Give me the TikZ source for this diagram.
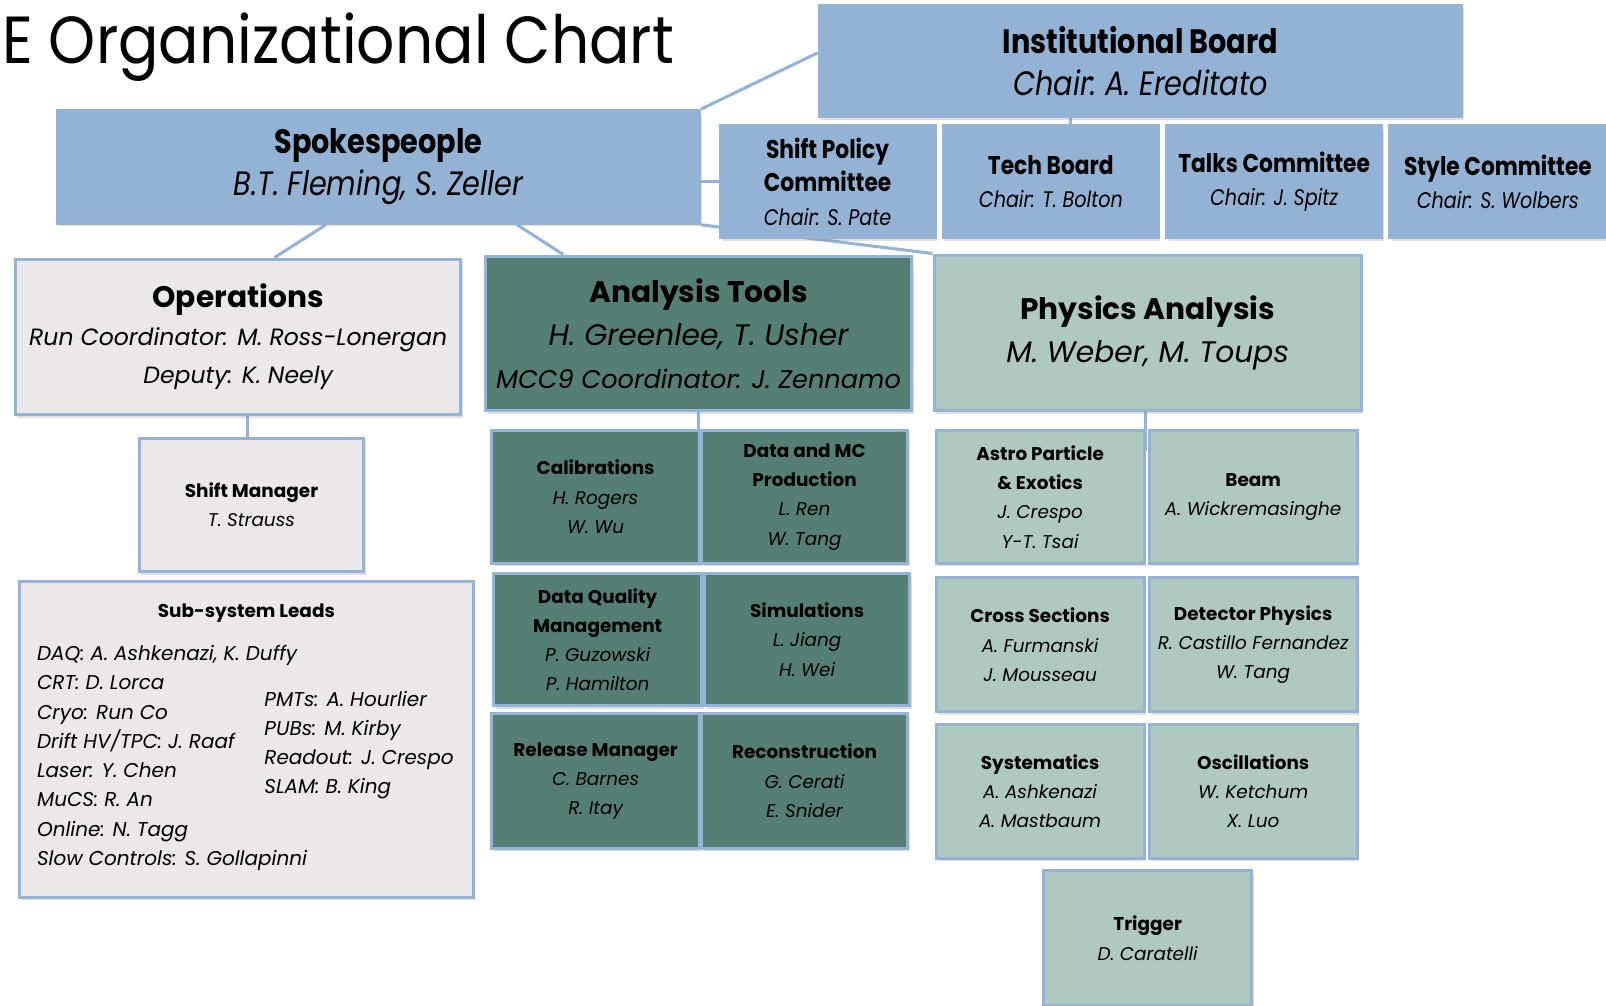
\documentclass[tikz,border=0pt]{standalone}
\usepackage{fontspec}
\setmainfont{Poppins}
\newfontfamily\cf[FakeStretch=0.85]{Poppins}
\newfontfamily\tf[FakeStretch=0.9]{Poppins}
\usetikzlibrary{shadows,backgrounds}
\definecolor{cblue}{HTML}{94B3D4}
\definecolor{cgray}{HTML}{EAE8E9}
\definecolor{cdark}{HTML}{557F74}
\definecolor{clight}{HTML}{AFC9C1}
\definecolor{cline}{HTML}{95B3D6}
\begin{document}
\begin{tikzpicture}[x=1pt,y=-1pt,
  box/.style={rectangle, draw=cline, line width=3pt, align=center, inner sep=2pt,
    drop shadow={shadow xshift=2pt, shadow yshift=-3pt, opacity=0.25}},
  bbox/.style={box, fill=cblue},
  gbox/.style={box, fill=cgray},
  dbox/.style={box, fill=cdark},
  lbox/.style={box, fill=clight},
  conn/.style={draw=cline, line width=3pt},
  bigc/.style={font=\cf\fontsize{33}{41}\selectfont},
  medc/.style={font=\cf\fontsize{25}{32.5}\selectfont},
  small/.style={font=\fontsize{18}{28.6}\selectfont},
]
\useasboundingbox (0,0) rectangle (1568,982);

\node[anchor=base west, inner sep=0, font=\tf\fontsize{65}{65}\selectfont] (title) at (2,62) {E Organizational Chart};

% top row
\node[bbox, bigc, minimum width=627pt, minimum height=109pt] (ib) at (1113.5,59.5)
  {{\bfseries Institutional Board}\\{\itshape Chair:\ A. Ereditato}};
\node[bbox, bigc, minimum width=627pt, minimum height=110pt] (spk) at (369.5,163)
  {{\bfseries Spokespeople}\\{\itshape B.T. Fleming, S. Zeller}};
\node[bbox, medc, minimum width=210pt, minimum height=109pt] (sp) at (808,177.5)
  {{\bfseries Shift Policy}\\{\bfseries Committee}\\{\fontsize{22}{32.5}\selectfont\itshape Chair: S. Pate}};
\node[bbox, medc, minimum width=210pt, minimum height=109pt] (tb) at (1026,177.5)
  {{\bfseries Tech Board}\\{\fontsize{22}{32.5}\selectfont\itshape Chair: T. Bolton}};
\node[bbox, medc, minimum width=210pt, minimum height=109pt] (tc) at (1244,177.5)
  {{\bfseries Talks Committee}\\{\fontsize{22}{32.5}\selectfont\itshape Chair: J. Spitz}};
\node[bbox, medc, minimum width=211pt, minimum height=109pt] (sc) at (1462.5,177.5)
  {{\bfseries Style Committee}\\{\fontsize{22}{32.5}\selectfont\itshape Chair: S. Wolbers}};

% second row
\node[gbox, minimum width=435pt, minimum height=152pt, font=\fontsize{29}{37}\selectfont] (ops) at (232.5,329)
  {{\bfseries Operations}\\{\fontsize{23}{37}\selectfont\itshape Run Coordinator: M. Ross-Lonergan}\\{\fontsize{23}{37}\selectfont\itshape Deputy: K. Neely}};
\node[dbox, minimum width=416pt, minimum height=151pt, font=\fontsize{29}{42}\selectfont] (at) at (682,325.5)
  {{\bfseries Analysis Tools}\\{\itshape H. Greenlee, T. Usher}\\{\fontsize{25}{42}\selectfont\itshape MCC9 Coordinator: J. Zennamo}};
\node[lbox, minimum width=417pt, minimum height=152pt, font=\fontsize{29}{42}\selectfont] (pa) at (1120.5,325)
  {{\bfseries Physics Analysis}\\{\itshape M. Weber, M. Toups}};

% operations children
\node[gbox, small, minimum width=219pt, minimum height=130pt] (sm) at (245.5,493)
  {{\bfseries Shift Manager}\\{\itshape T. Strauss}};
\node[gbox, minimum width=443pt, minimum height=308pt] (ssl) at (240.5,722) {};
\node[small, inner sep=0] (sslt) at (240.5,599) {\bfseries Sub-system Leads};
\node[anchor=west, align=left, inner sep=0, font=\itshape\fontsize{19.5}{28.6}\selectfont] (ssla) at (36,740)
  {DAQ: A. Ashkenazi, K. Duffy\\CRT: D. Lorca\\Cryo: Run Co\\Drift HV/TPC: J. Raaf\\Laser: Y. Chen\\MuCS: R. An\\Online: N. Tagg\\Slow Controls: S. Gollapinni};
\node[anchor=west, align=left, inner sep=0, font=\itshape\fontsize{19.5}{28.6}\selectfont] (sslb) at (258,727.5)
  {PMTs: A. Hourlier\\PUBs: M. Kirby\\Readout: J. Crespo\\SLAM: B. King};

% analysis tools children
\node[dbox, small, minimum width=203pt, minimum height=130pt] (cal) at (581.5,485)
  {{\bfseries Calibrations}\\{\itshape H. Rogers}\\{\itshape W. Wu}};
\node[dbox, small, minimum width=201pt, minimum height=130pt] (dmc) at (785.5,485)
  {{\bfseries Data and MC}\\{\bfseries Production}\\{\itshape L. Ren}\\{\itshape W. Tang}};
\node[dbox, small, minimum width=203pt, minimum height=129pt] (dq) at (583.5,624.5)
  {{\bfseries Data Quality}\\{\bfseries Management}\\{\itshape P. Guzowski}\\{\itshape P. Hamilton}};
\node[dbox, small, minimum width=200pt, minimum height=129pt] (sim) at (788,624.5)
  {{\bfseries Simulations}\\{\itshape L. Jiang}\\{\itshape H. Wei}};
\node[dbox, small, minimum width=203pt, minimum height=131pt] (rm) at (581.5,762.5)
  {{\bfseries Release Manager}\\{\itshape C. Barnes}\\{\itshape R. Itay}};
\node[dbox, small, minimum width=201pt, minimum height=131pt] (rec) at (785.5,762.5)
  {{\bfseries Reconstruction}\\{\itshape G. Cerati}\\{\itshape E. Snider}};

% physics analysis children
\node[lbox, small, minimum width=203pt, minimum height=130pt] (ap) at (1015.5,485)
  {{\bfseries Astro Particle}\\{\bfseries \& Exotics}\\{\itshape J. Crespo}\\{\itshape Y-T. Tsai}};
\node[lbox, small, minimum width=203pt, minimum height=130pt] (beam) at (1223.5,485)
  {{\bfseries Beam}\\{\itshape A. Wickremasinghe}};
\node[lbox, small, minimum width=203pt, minimum height=131pt] (xs) at (1015.5,629.5)
  {{\bfseries Cross Sections}\\{\itshape A. Furmanski}\\{\itshape J. Mousseau}};
\node[lbox, small, minimum width=203pt, minimum height=131pt] (dp) at (1223.5,629.5)
  {{\bfseries Detector Physics}\\{\itshape R. Castillo Fernandez}\\{\itshape W. Tang}};
\node[lbox, small, minimum width=203pt, minimum height=131pt] (sys) at (1015.5,772.5)
  {{\bfseries Systematics}\\{\itshape A. Ashkenazi}\\{\itshape A. Mastbaum}};
\node[lbox, small, minimum width=203pt, minimum height=131pt] (osc) at (1223.5,772.5)
  {{\bfseries Oscillations}\\{\itshape W. Ketchum}\\{\itshape X. Luo}};
\node[lbox, small, minimum width=203pt, minimum height=132pt] (trg) at (1120.5,916)
  {{\bfseries Trigger}\\{\itshape D. Caratelli}};

\coordinate (pend) at (1118,440);

\begin{pgfonlayer}{background}
\draw[conn] (spk.north east) -- ([yshift=8pt]ib.west);
\draw[conn] (spk.east |- sp.west) -- (sp.west);
\draw[conn] (spk.south east) -- (pa.north west);
\draw[conn] ([xshift=-51.5pt]spk.south) -- ([xshift=35.5pt]ops.north);
\draw[conn] ([xshift=135.5pt]spk.south) -- ([xshift=-132pt]at.north);
\draw[conn] ([xshift=-68.5pt]ib.south) -- ([xshift=19pt]tb.north);
\draw[conn] ([xshift=9.5pt]ops.south) -- ([xshift=-3.5pt]sm.north);
\draw[conn] (at.south) -- (at.south |- cal.north);
\draw[conn] ([xshift=-2.5pt]pa.south) -- (pend);
\end{pgfonlayer}
\end{tikzpicture}
\end{document}
